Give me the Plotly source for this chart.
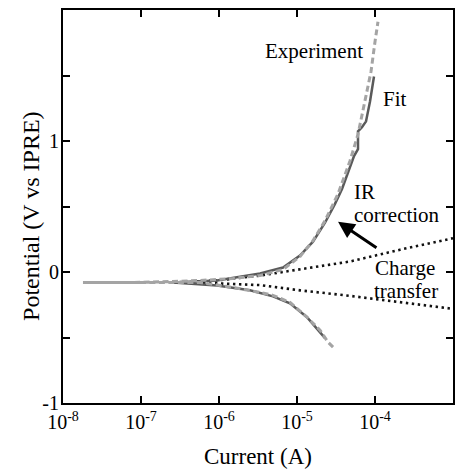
import plotly.graph_objects as go

# Experimental polarisation curve (log10 of current in A, potential in V vs IPRE)
exp_cath_logi = [-4.538, -4.603, -4.705, -4.872, -5.090, -5.308, -5.474, -5.821, -6.244, -6.590, -7.141, -7.744]
exp_cath_v = [-0.573, -0.535, -0.444, -0.345, -0.232, -0.178, -0.156, -0.118, -0.080, -0.080, -0.080, -0.080]
exp_anod_logi = [-7.744, -7.141, -6.590, -6.244, -5.821, -5.474, -5.179, -4.962, -4.795, -4.641,
                 -4.474, -4.321, -4.218, -4.128, -4.051, -4.000, -3.962]
exp_anod_v = [-0.080, -0.080, -0.072, -0.065, -0.049, -0.027, 0.019, 0.118, 0.239, 0.391,
              0.596, 0.847, 1.051, 1.302, 1.530, 1.758, 1.910]

# Model fit
fit_cath_logi = [-4.641, -4.731, -4.872, -5.090, -5.308, -5.603, -6.026, -6.590]
fit_cath_v = [-0.505, -0.444, -0.345, -0.239, -0.186, -0.140, -0.103, -0.080]
fit_anod_logi = [-6.590, -6.026, -5.474, -5.179, -4.962, -4.795, -4.641, -4.513, -4.423,
                 -4.346, -4.269, -4.218, -4.218, -4.167, -4.115, -4.064, -4.013]
fit_anod_v = [-0.080, -0.065, -0.011, 0.034, 0.125, 0.232, 0.376, 0.520, 0.634,
              0.756, 0.885, 0.938, 1.074, 1.105, 1.150, 1.302, 1.492]

# Charge-transfer contribution only (no IR drop)
ct_logi = [-6.590, -6.026, -5.474, -4.962, -4.321, -3.679, -3.000]
ct_anod_v = [-0.080, -0.065, -0.027, 0.023, 0.080, 0.170, 0.258]
ct_cath_v = [-0.080, -0.087, -0.100, -0.140, -0.182, -0.228, -0.281]

x_ticks = [-8, -7, -6, -5, -4, -3]
y_major = [-1, 0, 1, 2]
y_minor = [-0.5, 0.5, 1.5]

SERIF = "Liberation Serif, Times New Roman, serif"


def amps(logs):
    return [10 ** v for v in logs]


fig = go.Figure()

fig.add_trace(go.Scatter(
    x=amps(ct_logi), y=ct_anod_v, mode="lines",
    line=dict(color="#111111", width=2.6, dash="2.4px,3.6px"), showlegend=False))
fig.add_trace(go.Scatter(
    x=amps(ct_logi), y=ct_cath_v, mode="lines",
    line=dict(color="#111111", width=2.6, dash="2.4px,3.6px"), showlegend=False))

fig.add_trace(go.Scatter(
    x=amps(fit_cath_logi + fit_anod_logi), y=fit_cath_v + fit_anod_v, mode="lines",
    line=dict(color="#5a5a5a", width=2.5), showlegend=False))

fig.add_trace(go.Scatter(
    x=amps(exp_cath_logi + exp_anod_logi), y=exp_cath_v + exp_anod_v, mode="lines",
    line=dict(color="#a4a4a4", width=3, dash="6px,3.5px"), showlegend=False))

fig.update_xaxes(
    type="log", range=[-8, -3],
    tickvals=[10 ** t for t in x_ticks],
    ticktext=["10<sup>%d</sup>" % t for t in x_ticks],
    ticks="inside", ticklen=7, tickwidth=1.5, tickcolor="black",
    showline=True, linewidth=2, linecolor="black", mirror="ticks",
    showgrid=False, zeroline=False,
    tickfont=dict(family=SERIF, size=20, color="black"),
)
fig.update_yaxes(
    range=[-1, 2],
    tickvals=y_major, ticktext=[str(v) for v in y_major],
    ticks="inside", ticklen=7, tickwidth=1.5, tickcolor="black",
    minor=dict(tickvals=y_minor, ticks="inside", ticklen=7, tickwidth=1.5,
               tickcolor="black", showgrid=False),
    showline=True, linewidth=2, linecolor="black", mirror="ticks",
    showgrid=False, zeroline=False, ticklabelstandoff=-2,
    tickfont=dict(family=SERIF, size=20, color="black"),
)

label_font = dict(family=SERIF, size=21, color="black")
annotations = [
    dict(x=-4.128, y=1.69, text="Experiment", xanchor="right", yanchor="middle"),
    dict(x=-3.923, y=1.317, text="Fit", xanchor="left", yanchor="middle"),
    dict(x=-4.295, y=0.611, text="IR", xanchor="left", yanchor="middle"),
    dict(x=-4.295, y=0.437, text="correction", xanchor="left", yanchor="middle"),
    dict(x=-4.026, y=0.034, text="Charge", xanchor="left", yanchor="middle"),
    dict(x=-4.038, y=-0.148, text="transfer", xanchor="left", yanchor="middle"),
]
for a in annotations:
    fig.add_annotation(xref="x", yref="y", showarrow=False, font=label_font, **a)

# Arrow pointing from the charge-transfer label to the IR-corrected curve
fig.add_annotation(
    xref="x", yref="y", axref="x", ayref="y",
    x=-4.474, y=0.383, ax=-3.962, ay=0.178,
    text="", showarrow=True, arrowhead=2, arrowsize=1.1, arrowwidth=3, arrowcolor="black",
)

# Axis titles
fig.add_annotation(
    xref="paper", yref="paper", x=0.5, y=-0.137, text="Current (A)",
    showarrow=False, xanchor="center", yanchor="middle",
    font=dict(family=SERIF, size=23, color="black"))
fig.add_annotation(
    xref="paper", yref="paper", x=-0.082, y=0.476, text="Potential (V vs IPRE)",
    textangle=-90, showarrow=False, xanchor="center", yanchor="middle",
    font=dict(family=SERIF, size=24, color="black"))

fig.update_layout(
    width=466, height=472,
    margin=dict(l=63, r=13, t=8, b=69),
    plot_bgcolor="white", paper_bgcolor="white",
    showlegend=False,
    font=dict(family=SERIF, color="black"),
)

fig.write_html("out.html")
